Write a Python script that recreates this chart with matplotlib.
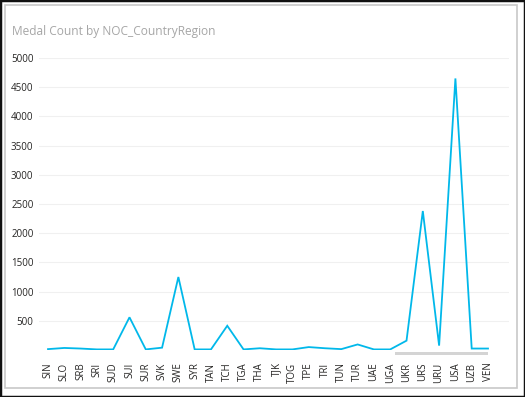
import matplotlib
matplotlib.use("Agg")
import matplotlib.pyplot as plt
from matplotlib.patches import Rectangle

countries = ["SIN", "SLO", "SRB", "SRI", "SUD", "SUI", "SUR", "SVK", "SWE", "SYR",
             "TAN", "TCH", "TGA", "THA", "TJK", "TOG", "TPE", "TRI", "TUN", "TUR",
             "UAE", "UGA", "UKR", "URS", "URU", "USA", "UZB", "VEN"]
medals = [15, 35, 25, 10, 10, 560, 10, 40, 1250, 10,
          10, 415, 10, 30, 10, 10, 50, 30, 15, 95,
          10, 10, 160, 2380, 75, 4650, 25, 25]
yticks = [500, 1000, 1500, 2000, 2500, 3000, 3500, 4000, 4500, 5000]

W, H = 525, 397
plt.rcParams['font.family'] = ['Open Sans', 'DejaVu Sans']
fig = plt.figure(figsize=(W / 100, H / 100), dpi=100)

# frames
fig.patches.append(Rectangle((0, 0), 1, 1, transform=fig.transFigure,
                             facecolor='white', edgecolor='#111111', linewidth=2.5, zorder=-10))
fig.patches.append(Rectangle((5 / W, 1 - 388 / H), (517 - 5) / W, (388 - 5) / H,
                             transform=fig.transFigure, facecolor='white',
                             edgecolor='#c8c8c8', linewidth=1.2, zorder=-9))

ax_left, ax_right = 39, 509
ax_top, ax_bottom = 58, 350
ax = fig.add_axes([ax_left / W, 1 - ax_bottom / H, (ax_right - ax_left) / W, (ax_bottom - ax_top) / H])
ax.set_facecolor('none')
ax.set_zorder(5)

x = list(range(len(countries)))
ax.plot(x, medals, color='#01B8EA', linewidth=1.3, solid_joinstyle='miter')

first_px, last_px = 48, 488
spacing = (last_px - first_px) / 27
ax.set_xlim(-(first_px - ax_left) / spacing, 27 + (ax_right - last_px) / spacing)
ax.set_ylim(0, 5000)
ax.set_yticks(yticks)
ax.set_yticklabels([str(v) for v in yticks], fontsize=7, color='#252423')
ax.set_xticks(x)
ax.set_xticklabels(countries, rotation=90, fontsize=7, color='#252423')
ax.tick_params(axis='both', length=0)
ax.tick_params(axis='y', pad=4)
ax.tick_params(axis='x', pad=9)
ax.grid(axis='y', color='#f0f0f0', linewidth=0.8)
ax.set_axisbelow(True)
for s in ax.spines.values():
    s.set_visible(False)

# scrollbar
fig.patches.append(Rectangle((395 / W, 1 - 355 / H), (488 - 395) / W, 3 / H,
                             transform=fig.transFigure, facecolor='#d4d4d4', edgecolor='none',
                             zorder=-5))

fig.text(12 / W, 1 - 32 / H, "Medal Count by NOC_CountryRegion", fontsize=8.6,
         color='#a6a6a6', ha='left', va='center')

fig.savefig("out.png", dpi=100)
